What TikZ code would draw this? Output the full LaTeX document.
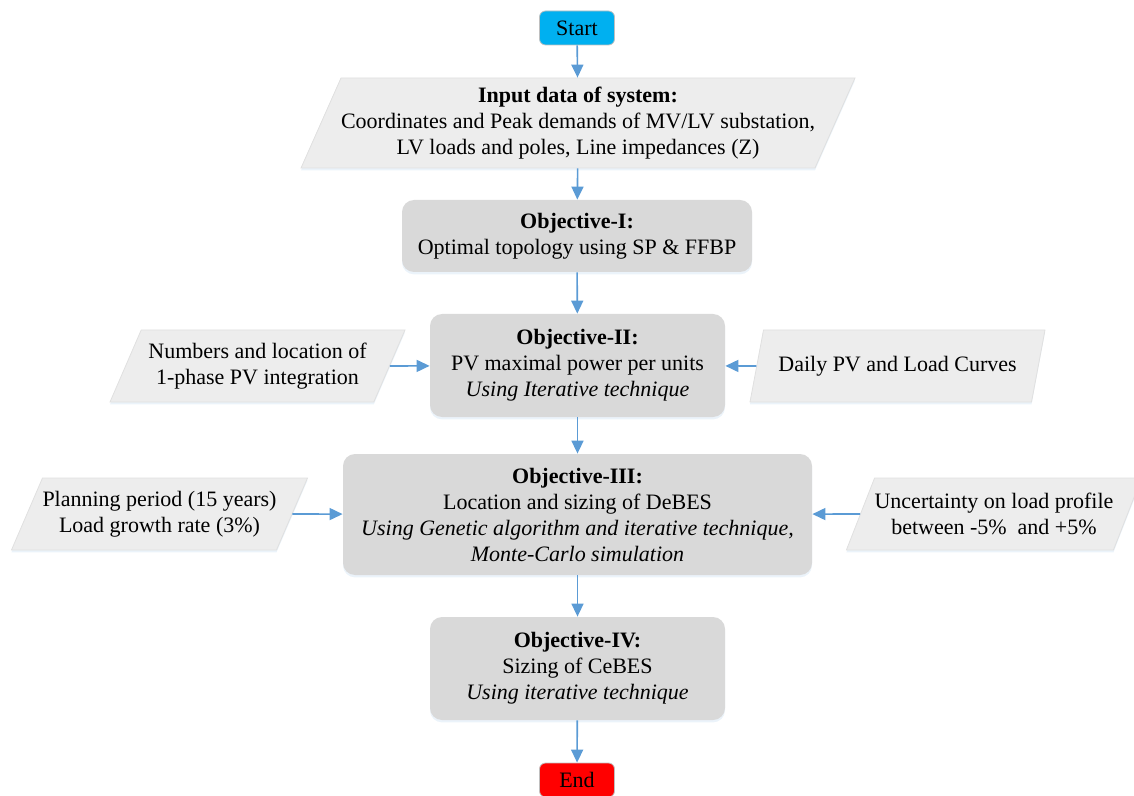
\documentclass[tikz,border=0pt]{standalone}
\usepackage{fontspec}
\setmainfont{Liberation Serif}
\usetikzlibrary{arrows.meta, shapes.geometric, positioning, shadows}

\definecolor{startblue}{RGB}{0,176,240}
\definecolor{endred}{RGB}{255,0,0}
\definecolor{objgray}{RGB}{217,217,217}
\definecolor{datagray}{RGB}{237,237,237}
\definecolor{flowblue}{RGB}{91,155,213}

\tikzset{
  terminal/.style={draw=black!25, rounded corners=3pt, minimum width=37.5pt, minimum height=17pt, inner sep=0pt},
  objbox/.style={fill=objgray, rounded corners=6pt, align=center, inner sep=0pt,
    drop shadow={shadow xshift=0pt, shadow yshift=-1.2pt, opacity=0.3, fill=flowblue!40}},
  databox/.style={trapezium, trapezium left angle=56, trapezium right angle=124, trapezium stretches body,
    fill=datagray, draw=black!12, align=center, inner sep=0pt,
    drop shadow={shadow xshift=0pt, shadow yshift=-1.2pt, opacity=0.3, fill=flowblue!40}},
  flow/.style={draw=flowblue, line width=0.8pt, -{Triangle[length=6.5pt, width=6pt]}}
}

\begin{document}
\begin{tikzpicture}[x=0.5pt, y=-0.5pt, font=\fontsize{11}{13}\selectfont]
  \useasboundingbox (0,0) rectangle (1134,796);

  % main column
  \node[terminal, fill=startblue] (start) at (577,28) {Start};
  \node[databox, trapezium left angle=61, trapezium right angle=119,
        minimum width=226pt, minimum height=45pt] (input) at (578,123)
    {\textbf{Input data of system:}\\
     Coordinates and Peak demands of MV/LV substation,\\
     LV loads and poles, Line impedances (Z)};
  \node[objbox, minimum width=175pt, minimum height=36pt] (obj1) at (577,236)
    {\textbf{Objective-I:}\\ Optimal topology using SP \& FFBP};
  \node[objbox, minimum width=147.5pt, minimum height=51.5pt] (obj2) at (577.5,365.5)
    {\textbf{Objective-II:}\\ PV maximal power per units\\ \textit{Using Iterative technique}};
  \node[objbox, minimum width=234.5pt, minimum height=60.5pt] (obj3) at (577.5,514.5)
    {\textbf{Objective-III:}\\ Location and sizing of DeBES\\
     \textit{Using Genetic algorithm and iterative technique,}\\
     \textit{Monte-Carlo simulation}};
  \node[objbox, minimum width=147.5pt, minimum height=51.5pt] (obj4) at (577.5,668.5)
    {\textbf{Objective-IV:}\\ Sizing of CeBES\\ \textit{Using iterative technique}};
  \node[terminal, fill=endred] (end) at (577,780) {End};

  % side inputs
  \node[databox, minimum width=147.5pt, minimum height=36pt] (pvloc) at (257.5,366)
    {Numbers and location of\\ 1-phase PV integration};
  \node[databox, minimum width=147.5pt, minimum height=36pt] (curves) at (897.5,366)
    {Daily PV and Load Curves};
  \node[databox, minimum width=147.5pt, minimum height=36pt] (period) at (159.5,514)
    {Planning period (15 years)\\ Load growth rate (3\%)};
  \node[databox, minimum width=146pt, minimum height=36pt] (uncert) at (994,514)
    {Uncertainty on load profile\\ between -5\%~~and +5\%};

  % connectors
  \draw[flow] (start) -- (input);
  \draw[flow] (input) -- (obj1);
  \draw[flow] (obj1) -- (obj2);
  \draw[flow] (obj2) -- (obj3);
  \draw[flow] (obj3) -- (obj4);
  \draw[flow] (obj4) -- (end);
  \draw[flow] (pvloc.east) -- (obj2);
  \draw[flow] (curves.west) -- (obj2);
  \draw[flow] (period.east) -- (obj3);
  \draw[flow] (uncert.west) -- (obj3);
\end{tikzpicture}
\end{document}
